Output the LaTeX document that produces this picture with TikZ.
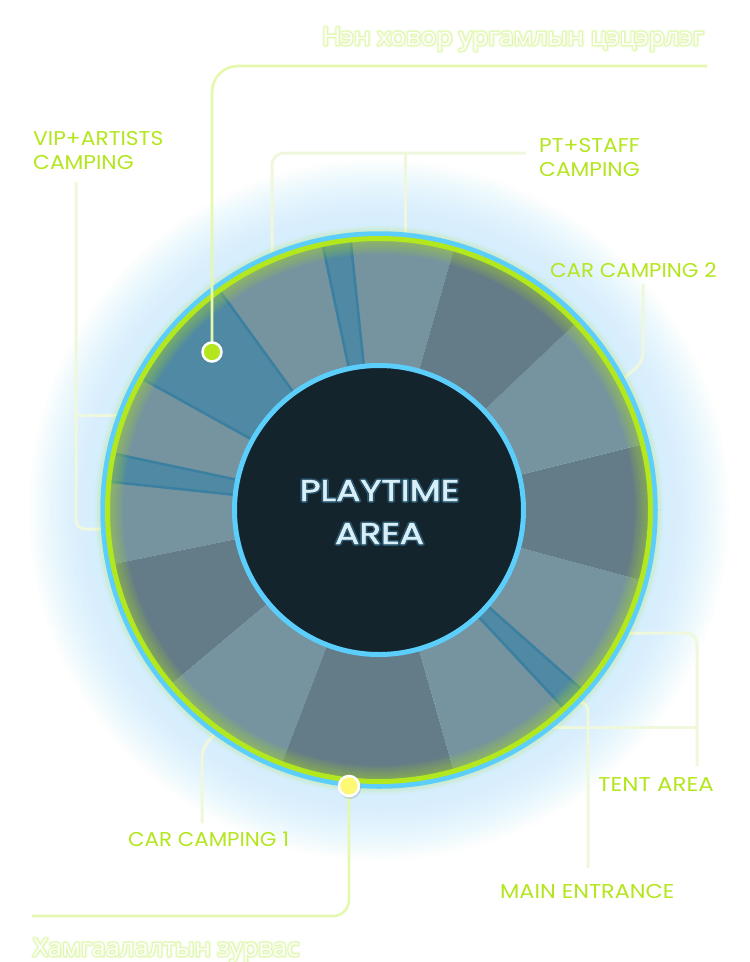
\documentclass[tikz,border=0pt]{standalone}
\usepackage{fontspec}
\setmainfont{Poppins}
\newfontfamily\cyrfont{Open Sans}
\usetikzlibrary{calc}
\definecolor{lab}{HTML}{B4E61E}
\definecolor{ringgreen}{HTML}{B4E81E}
\definecolor{ringblue}{HTML}{5CCEFC}
\definecolor{seglight}{HTML}{75949F}
\definecolor{segdark}{HTML}{647C87}
\definecolor{segblue}{HTML}{4F89A3}
\definecolor{segedge}{HTML}{3B80A0}
\definecolor{core}{HTML}{13242D}
\definecolor{pale}{HTML}{EFF7DD}
\definecolor{palegreen}{HTML}{E4F9AE}
\definecolor{glowc}{HTML}{CDEEFD}
\definecolor{coretext}{HTML}{D8EFF8}
\definecolor{dotgreen}{HTML}{B4E61E}
\definecolor{dotyellow}{HTML}{FFF875}
% stroked text: #1 stroke colour as "r g b", #2 stroke width, #3 text
\newcommand\strk[3]{\special{pdf:literal direct #1 RG #2 w 1 j 1 J 2 Tr}#3\special{pdf:literal direct 0 Tr}}
\newcommand\titleglow[1]{\rlap{\textcolor{white}{\strk{0.95 0.99 0.87}{4.5}{#1}}}\rlap{\textcolor{white}{\strk{0.88 0.97 0.68}{2}{#1}}}\textcolor{white}{#1}}
\newcommand\coreglow[1]{\rlap{\textcolor{coretext}{\strk{0.16 0.33 0.42}{3.5}{#1}}}\textcolor{coretext}{\strk{0.85 0.94 0.97}{0.45}{#1}}}
\newcommand\annseg[3]{\fill[#3] (#1:146) arc[start angle=#1, end angle=#2, radius=146] -- (#2:270) arc[start angle=#2, end angle=#1, radius=270] -- cycle;}
\tikzset{
  labeltext/.style={anchor=base west, inner sep=0pt, text=lab, font=\fontsize{20}{24}\selectfont},
  titletext/.style={anchor=base west, inner sep=0pt, font=\cyrfont\fontsize{24.5}{28}\selectfont},
  coretextstyle/.style={anchor=base, inner sep=0pt, font=\fontsize{30}{34}\selectfont},
  paleline/.style={draw=pale, line width=3pt},
  brightline/.style={draw=palegreen, line width=2.6pt},
  segline/.style={draw=segedge, line width=2.5pt},
  dotstyle/.style={circle, draw=white, line width=2.5pt, minimum size=19pt, inner sep=0pt},
}
\begin{document}
\begin{tikzpicture}[x=1pt, y=-1pt]
\useasboundingbox (0,0) rectangle (750,962);
\fill[white] (0,0) rectangle (750,962);
% glow
\foreach \r in {278,281,...,350}
  \fill[glowc, opacity=0.06] (379,510) circle[radius=\r];
% coordinates
\coordinate (vipTop) at (76,182);
\coordinate (vipEndA) at (122,415);
\coordinate (vipEndB) at (104,529);
\coordinate (ptA) at (526,153);
\coordinate (ptB) at (272,256);
\coordinate (ptC) at (405,235);
\coordinate (cc2A) at (643,284);
\coordinate (cc2B) at (624,378);
\coordinate (tentA) at (620,633);
\coordinate (tentB) at (697,766);
\coordinate (tentC) at (553,727);
\coordinate (meA) at (574,702);
\coordinate (meB) at (588,868);
\coordinate (cc1A) at (216,733);
\coordinate (cc1B) at (202,823);
\coordinate (topR) at (707,66);
\coordinate (botL) at (32,916);
% pale connectors (under ring)
\draw[paleline, rounded corners=9pt] (vipTop) -- (76,529) -- (vipEndB);
\draw[paleline] (76,415) -- (vipEndA);
\draw[paleline, rounded corners=12pt] (ptA) -- (272,153) -- (ptB);
\draw[paleline] (405,153) -- (ptC);
\draw[paleline, rounded corners=9pt] (cc2A) -- (643,362) -- (cc2B);
\draw[paleline, rounded corners=11pt] (tentA) -- (697,633) -- (tentB);
\draw[paleline] (tentC) -- (697,727);
\draw[paleline, rounded corners=9pt] (meA) -- (588,702) -- (meB);
\draw[paleline, rounded corners=9pt] (cc1A) -- (202,748) -- (cc1B);
% ring
\begin{scope}[shift={(379,510)}, yscale=-1]
  \annseg{74}{96}{seglight}
  \annseg{96}{102}{segblue}
  \annseg{102}{126}{seglight}
  \annseg{126}{151}{segblue}
  \annseg{151}{168}{seglight}
  \annseg{168}{174}{segblue}
  \annseg{174}{191.5}{seglight}
  \annseg{191.5}{220}{segdark}
  \annseg{220}{249}{seglight}
  \annseg{249}{286}{segdark}
  \annseg{286}{313}{seglight}
  \annseg{313}{318.5}{segblue}
  \annseg{318.5}{345}{seglight}
  \annseg{345}{374}{segdark}
  \annseg{14}{43.5}{seglight}
  \annseg{43.5}{74}{segdark}
  \foreach \a in {96,102,126,151,168,174,313,318.5}
    \draw[segline] (\a:146) -- (\a:270);
  \foreach \w in {4,8,12,16,20,24,28}
    \draw[ringgreen, opacity=0.07, line width=\w pt] (0,0) circle[radius=270];
  \draw[ringblue, line width=5.5pt] (0,0) circle[radius=276];
  \draw[ringgreen, line width=5pt] (0,0) circle[radius=271.5];
  \draw[ringblue, line width=5pt, fill=core] (0,0) circle[radius=144.5];
\end{scope}
% bright connectors
\draw[brightline, rounded corners=26pt] (topR) -- (212,66) -- (212,352);
\draw[brightline, rounded corners=16pt] (349,786) -- (349,916) -- (botL);
% dots
\fill[black, opacity=0.12] (350,788) circle[radius=11];
\node[dotstyle, fill=dotgreen] (vipdot) at (212,352) {};
\node[dotstyle, fill=dotyellow, minimum size=20pt] (entdot) at (349,786) {};
% center text
\node[coretextstyle] (play1) at (379.5,501) {\scalebox{1.2}[1]{\coreglow{PLAYTIME}}};
\node[coretextstyle] (play2) at (379.5,544) {\scalebox{1.2}[1]{\coreglow{AREA}}};
% labels
\node[labeltext] (vip1) at (33,145) {\scalebox{1.09}[1]{VIP+ARTISTS}};
\node[labeltext] (vip2) at (33,169) {\scalebox{1.09}[1]{CAMPING}};
\node[labeltext] (pt1) at (539,152) {\scalebox{1.09}[1]{PT+STAFF}};
\node[labeltext] (pt2) at (539,176) {\scalebox{1.09}[1]{CAMPING}};
\node[labeltext] (cc2) at (550,277) {\scalebox{1.07}[1]{CAR CAMPING 2}};
\node[labeltext] (tent) at (598,791) {\scalebox{1.15}[1]{TENT AREA}};
\node[labeltext] (cc1) at (128,846) {\scalebox{1.07}[1]{CAR CAMPING 1}};
\node[labeltext] (main) at (500,898) {\scalebox{1.12}[1]{MAIN ENTRANCE}};
% titles
\node[titletext] (title1) at (322,45) {\scalebox{1.06}[1]{\titleglow{Нэн ховор ургамлын цэцэрлэг}}};
\node[titletext] (title2) at (33,956) {\scalebox{1.04}[1]{\titleglow{Хамгаалалтын зурвас}}};
\end{tikzpicture}
\end{document}
